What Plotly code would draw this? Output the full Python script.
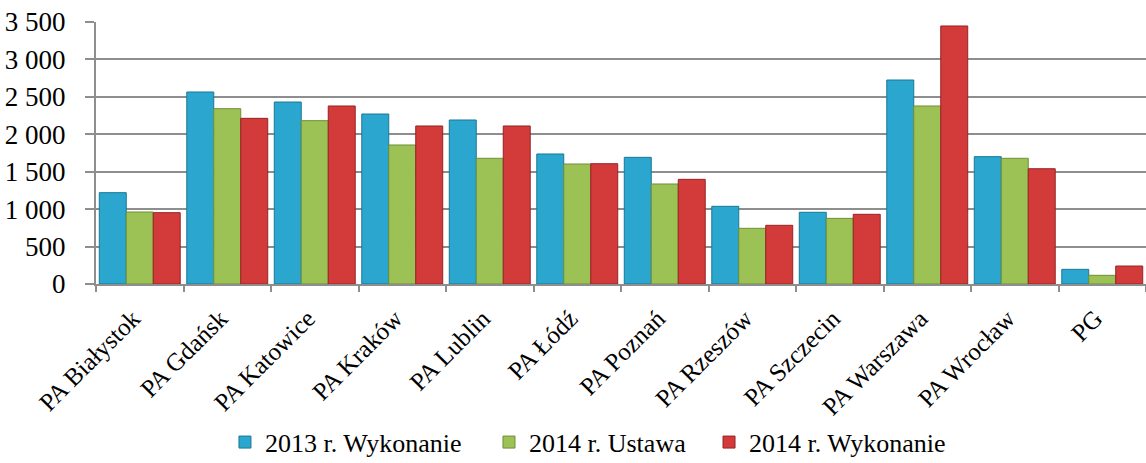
import plotly.graph_objects as go

categories = ["PA Białystok", "PA Gdańsk", "PA Katowice", "PA Kraków", "PA Lublin", "PA Łódź",
              "PA Poznań", "PA Rzeszów", "PA Szczecin", "PA Warszawa", "PA Wrocław", "PG"]
wyk_2013 = [1220, 2565, 2431, 2271, 2191, 1737, 1692, 1038, 958, 2725, 1701, 196]
ustawa_2014 = [962, 2342, 2182, 1857, 1679, 1603, 1336, 744, 877, 2378, 1679, 116]
wyk_2014 = [953, 2213, 2378, 2111, 2111, 1607, 1398, 784, 931, 3447, 1540, 240]
y_ticks = [0, 500, 1000, 1500, 2000, 2500, 3000, 3500]

series = [
    ("2013 r. Wykonanie", wyk_2013, "#2aa6cf", "#1a7895", "legend", 0.1963),
    ("2014 r. Ustawa", ustawa_2014, "#9cc255", "#6f8f37", "legend2", 0.4267),
    ("2014 r. Wykonanie", wyk_2014, "#d33a3a", "#962424", "legend3", 0.6187),
]

font = "Liberation Serif, Times New Roman, serif"

fig = go.Figure()
legends = {}
for name, vals, col, edge, leg, lx in series:
    fig.add_trace(go.Bar(
        x=categories,
        y=vals,
        name=name,
        legend=leg,
        marker=dict(color=col, line=dict(color=edge, width=1)),
    ))
    # one legend per series so each entry sits where it does in the original
    legends[leg] = dict(x=lx, xref="container", xanchor="left",
                        y=0.045, yref="container", yanchor="middle",
                        orientation="h", font=dict(family=font, size=26),
                        itemwidth=30, bgcolor="rgba(0,0,0,0)")

fig.update_layout(
    width=1146, height=463,
    margin=dict(l=96, r=0, t=22, b=179),
    paper_bgcolor="white",
    plot_bgcolor="white",
    barmode="group",
    bargap=0.075,
    bargroupgap=0,
    separators=", ",
    font=dict(family=font, size=21, color="black"),
    showlegend=True,
    **legends,
)
fig.update_yaxes(
    range=[0, 3500],
    tickvals=y_ticks,
    tickformat=",d",
    automargin=False,
    ticklabeloverflow="allow",
    showgrid=True, gridcolor="#8e8e8e", gridwidth=2,
    showline=True, linecolor="#8e8e8e", linewidth=2,
    ticks="outside", ticklen=9, tickcolor="#8e8e8e", tickwidth=2,
    ticklabelstandoff=14,
    zeroline=False,
    tickfont=dict(family=font, size=27),
)
fig.update_xaxes(
    tickangle=-45,
    tickson="boundaries",
    automargin=False,
    showline=True, linecolor="#8e8e8e", linewidth=2,
    ticks="outside", ticklen=6, tickcolor="#8e8e8e", tickwidth=2,
    ticklabelstandoff=8,
    ticklabelshift=-7,
    tickfont=dict(family=font, size=25),
)

# drop the default 8px page margin so the figure fills the window
fig.write_html("out.html", config={"displayModeBar": False},
               post_script="document.body.style.margin='0px';")
